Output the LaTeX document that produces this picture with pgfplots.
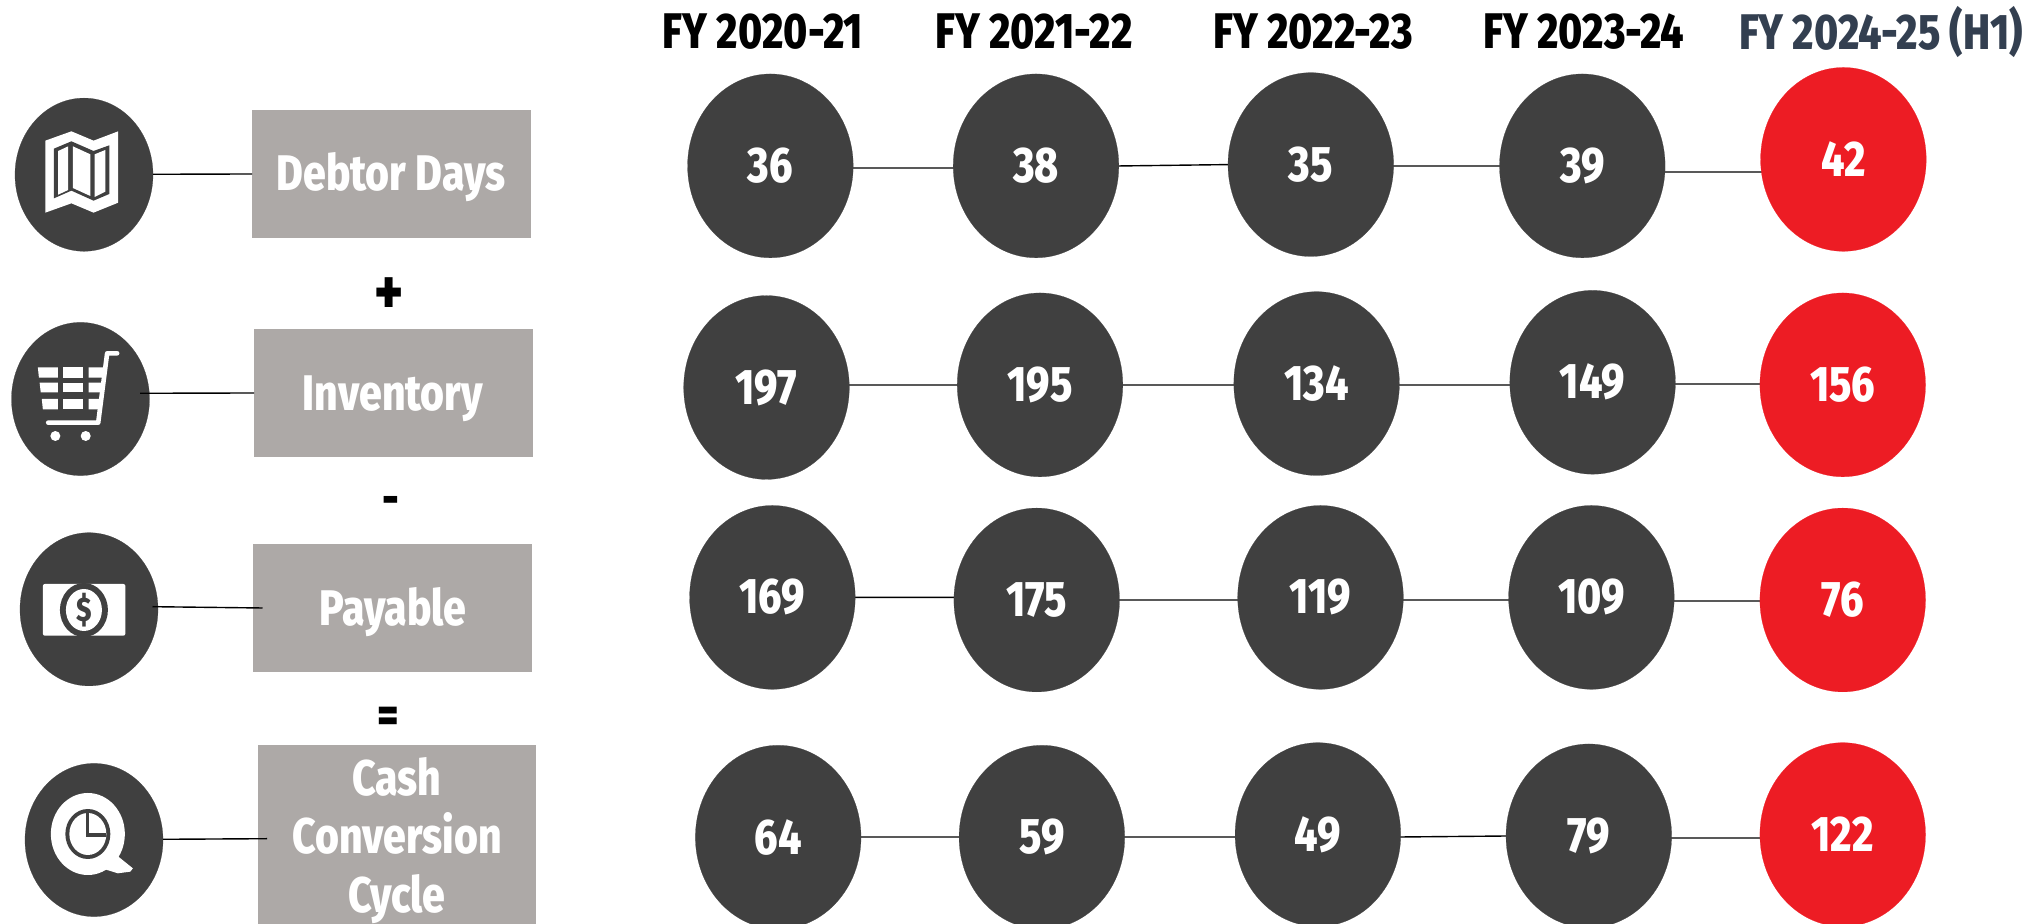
\documentclass[border=0pt]{standalone}
\usepackage{fontspec}
\setmainfont{Fira Sans}[FakeStretch=0.82,BoldFont={Fira Sans ExtraBold}]
\usepackage{pgfplots}
\usepackage{pgfplotstable}
\pgfplotsset{compat=1.18}

\definecolor{dark}{HTML}{404040}
\definecolor{hot}{HTML}{ED1C24}
\definecolor{boxgray}{HTML}{ADA9A7}
\definecolor{slate}{HTML}{333F50}

\tikzset{
  head/.style={anchor=base,inner sep=0pt,font=\fontsize{25}{25}\selectfont\bfseries},
  lab/.style={anchor=base,inner sep=0pt,text=white,font=\fontsize{25}{25}\selectfont\bfseries},
  sym/.style={anchor=center,inner sep=0pt,font=\fontsize{25}{25}\selectfont\bfseries},
}

% circles: x y value, in picture pixels
\pgfplotstableread{
x y v
770.4 165.9 36
1036.0 165.9 38
1310.8 164.6 35
1582.3 165.9 39
766.5 387.5 197
1040.0 384.9 195
1316.6 383.6 134
1592.6 382.3 149
772.4 597.4 169
1036.7 600.0 175
1320.5 597.4 119
1591.4 597.4 109
778.2 837.2 64
1041.9 837.2 59
1317.9 834.6 49
1588.8 835.9 79
}\darkdots
\pgfplotstableread{
x y v
1843.4 159.4 42
1842.7 384.9 156
1842.7 600.0 76
1842.7 834.6 122
}\reddots

% icon coordinates as read off the two crops
\newcommand\ia[2]{(axis cs:{#1/2.8},{70+#2/3})}
\newcommand\ib[2]{(axis cs:{#1/2.8},{500+#2/3})}

\begin{document}
\begin{tikzpicture}
\begin{axis}[
  at={(0,0)},anchor=south west,
  width=1016pt,height=462pt,scale only axis,
  xmin=0,xmax=2032,ymin=0,ymax=924,y dir=reverse,
  axis lines=none,ticks=none,
  unbounded coords=jump,
  set layers=standard,
  cyc/.style={only marks,mark=*,mark size=41.4pt,
    mark options={draw=#1,fill=#1,line width=0.1pt,yscale=1.11},
    nodes near coords,point meta=explicit symbolic,
    every node near coord/.append style={anchor=center,inner sep=0pt,
      text=white,font=\fontsize{25}{25}\selectfont\bfseries}},
  ico/.style={only marks,mark=*,mark size=34.5pt,
    mark options={draw=dark,fill=dark,line width=0.1pt,yscale=1.11}},
]
% grey boxes
\addplot[fill=boxgray,draw=none] coordinates {(252,110) (531,110) (531,238) (252,238)} --cycle;
\addplot[fill=boxgray,draw=none] coordinates {(254,329) (533,329) (533,457) (254,457)} --cycle;
\addplot[fill=boxgray,draw=none] coordinates {(253,544) (532,544) (532,672) (253,672)} --cycle;
\addplot[fill=boxgray,draw=none] coordinates {(258,745) (536,745) (536,924) (258,924)} --cycle;

% connectors between the circles
\addplot[black,line width=0.7pt] coordinates {
  (853,168) (954,168) (nan,nan)
  (1118,166) (1228,164.6) (nan,nan)
  (1393,166) (1500,166) (nan,nan)
  (1665,172) (1762,172) (nan,nan)
  (849,385) (958,385) (nan,nan)
  (1122,385) (1234,385) (nan,nan)
  (1399,385) (1511,385) (nan,nan)
  (1675,384) (1762,384) (nan,nan)
  (855,597.4) (955,597.4) (nan,nan)
  (1119,600) (1239,600) (nan,nan)
  (1403,600) (1510,600) (nan,nan)
  (1674,601) (1762,601) (nan,nan)
  (861,837) (960,837) (nan,nan)
  (1124,837) (1236,837) (nan,nan)
  (1400,837) (1507,836) (nan,nan)
  (1671,838) (1762,838)
};

% value circles
\addplot[cyc=dark] table[x=x,y=y,meta=v] {\darkdots};
\addplot[cyc=hot] table[x=x,y=y,meta=v] {\reddots};

% icon discs
\addplot[ico] coordinates {(84,174.7) (80.5,399) (89,609.3) (94,840)};

% links from icons to boxes, above the discs
\addplot[black,line width=0.7pt,on layer=axis foreground] coordinates {
  (153,174.3) (252,174) (nan,nan)
  (140,393.3) (254,393) (nan,nan)
  (152.5,606.7) (262.5,608) (nan,nan)
  (163,839.3) (267,838.7)
};

\begin{pgfonlayer}{axis foreground}
% map icon
\fill[white] \ia{127}{212} -- \ia{200}{184} -- \ia{262}{212} -- \ia{331}{184} -- \ia{331}{398}
  -- \ia{262}{428} -- \ia{200}{400} -- \ia{127}{428} -- cycle;
\fill[dark] \ia{151}{236} -- \ia{200}{214} -- \ia{262}{243} -- \ia{306}{226} -- \ia{306}{372}
  -- \ia{262}{392} -- \ia{200}{362} -- \ia{151}{385} -- cycle;
\fill[white] \ia{163}{243} -- \ia{191}{229} -- \ia{191}{360} -- \ia{163}{374} -- cycle;
\fill[white] \ia{204}{229} -- \ia{253}{253} -- \ia{253}{378} -- \ia{204}{354} -- cycle;
\fill[white] \ia{265}{253} -- \ia{295}{240} -- \ia{295}{365} -- \ia{265}{381} -- cycle;

% cart icon
\fill[white] \ia{106}{892} -- \ia{162}{892} -- \ia{162}{923} -- \ia{109}{923} -- cycle;
\fill[white] \ia{175}{892} -- \ia{232}{892} -- \ia{232}{923} -- \ia{175}{923} -- cycle;
\fill[white] \ia{248}{892} -- \ia{290}{892} -- \ia{288}{923} -- \ia{248}{923} -- cycle;
\fill[white] \ia{111}{938} -- \ia{162}{938} -- \ia{162}{967} -- \ia{114}{967} -- cycle;
\fill[white] \ia{175}{938} -- \ia{232}{938} -- \ia{232}{967} -- \ia{175}{967} -- cycle;
\fill[white] \ia{248}{938} -- \ia{284}{938} -- \ia{282}{967} -- \ia{248}{967} -- cycle;
\fill[white] \ia{117}{987} -- \ia{162}{987} -- \ia{162}{1018} -- \ia{120}{1018} -- cycle;
\fill[white] \ia{175}{987} -- \ia{232}{987} -- \ia{232}{1018} -- \ia{175}{1018} -- cycle;
\fill[white] \ia{248}{987} -- \ia{278}{987} -- \ia{276}{1018} -- \ia{248}{1018} -- cycle;
\draw[white,line width=2.3pt,line cap=round,line join=round]
  \ia{328}{850} -- \ia{300}{850} -- \ia{275}{1058} -- \ia{135}{1058};
\fill[white] \ia{155}{1098} ellipse [x radius=5,y radius=5];
\fill[white] \ia{240}{1098} ellipse [x radius=5,y radius=5];

% banknote icon
\fill[white,rounded corners=1pt] \ib{120}{252} rectangle \ib{351}{407};
\fill[dark] \ib{235}{330} ellipse [x radius=24,y radius=27];
\fill[white] \ib{235}{330} ellipse [x radius=18,y radius=21];
\node[anchor=center,inner sep=0pt,text=dark,font=\fontsize{17}{17}\selectfont\bfseries]
  at (axis cs:84,610) {\$};

% pie in a speech bubble icon
\fill[white] \ib{246}{1002} ellipse [x radius=37,y radius=41];
\fill[white] \ib{320}{1060} -- \ib{372}{1105} -- \ib{365}{1115} -- \ib{330}{1120} -- \ib{285}{1105} -- cycle;
\fill[dark] \ib{246}{1002} ellipse [x radius=22.5,y radius=25];
\fill[white] \ib{246}{1002} ellipse [x radius=18.5,y radius=21];
\draw[dark,line width=1.6pt] \ib{246}{936} -- \ib{246}{1005} -- \ib{298}{1005};
\end{pgfonlayer}

% year headers
\node[head] at (axis cs:763,48.7) {FY 2020-21};
\node[head] at (axis cs:1034,48.7) {FY 2021-22};
\node[head] at (axis cs:1313,48.7) {FY 2022-23};
\node[head] at (axis cs:1584,48.7) {FY 2023-24};
\node[head,text=slate] at (axis cs:1881,49.5) {FY 2024-25 (H1)};

% box labels
\node[lab] at (axis cs:391,191) {Debtor Days};
\node[lab] at (axis cs:393,411) {Inventory};
\node[lab] at (axis cs:393,626) {Payable};
\node[lab] at (axis cs:397,796) {Cash};
\node[lab] at (axis cs:397,854) {Conversion};
\node[lab] at (axis cs:397,913) {Cycle};

% operators
\node[sym,font=\fontsize{33}{33}\selectfont\bfseries] at (axis cs:389,296) {+};
\node[sym] at (axis cs:391,506) {-};
\node[sym] at (axis cs:388,720) {=};
\end{axis}
\pgfresetboundingbox
\path[use as bounding box] (0,0) rectangle (1016pt,462pt);
\end{tikzpicture}
\end{document}
